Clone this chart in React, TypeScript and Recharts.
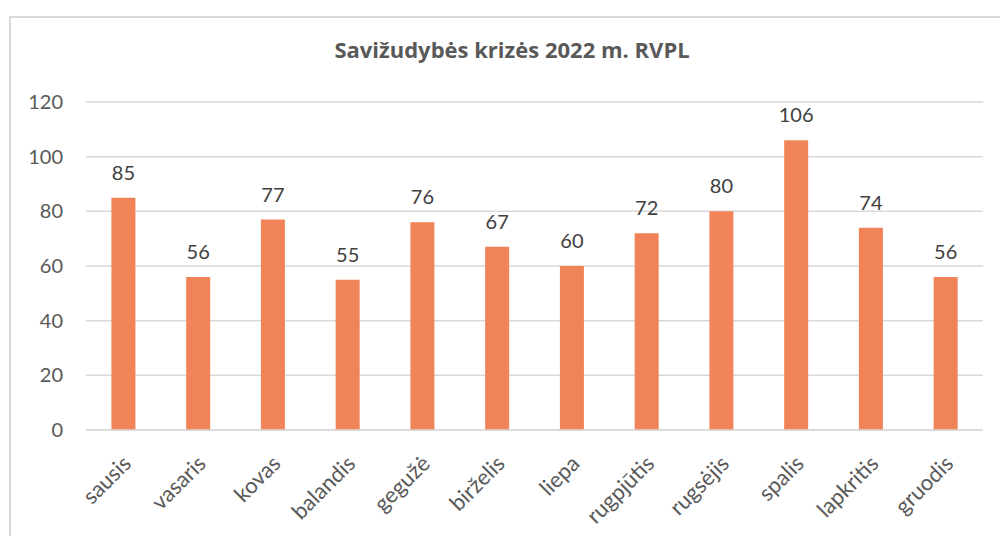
import { BarChart, Bar, XAxis, YAxis, CartesianGrid, LabelList } from 'recharts';

const months = ['sausis', 'vasaris', 'kovas', 'balandis', 'gegužė', 'birželis', 'liepa', 'rugpjūtis', 'rugsėjis', 'spalis', 'lapkritis', 'gruodis'];
const counts = [85, 56, 77, 55, 76, 67, 60, 72, 80, 106, 74, 56];
const yTicks = [0, 20, 40, 60, 80, 100, 120];

const FONT = 'Lato, "Open Sans", sans-serif';
const BAR = '#F08458';

function MonthTick(props: { x?: number; y?: number; payload?: { value: string } }) {
  const { x = 0, y = 0, payload } = props;
  return (
    <g transform={`translate(${x + 9},${y + 27})`}>
      <text transform="rotate(-45)" textAnchor="end" fill="#595959" fontSize={22} fontFamily={FONT}>
        {payload?.value}
      </text>
    </g>
  );
}

function CountTick(props: { y?: number; payload?: { value: number } }) {
  const { y = 0, payload } = props;
  return (
    <text x={63} y={y} dy={7} textAnchor="end" fill="#595959" fontSize={20} fontFamily={FONT}>
      {payload?.value}
    </text>
  );
}

export default function App() {
  const data = months.map((m, i) => ({ month: m, value: counts[i] }));

  return (
    <div style={{ position: 'absolute', left: 0, top: 0, width: 1000, height: 536, overflow: 'hidden', background: '#fff' }}>
      {/* chart frame, cut off on the right and bottom */}
      <div style={{ position: 'absolute', left: 9, top: 16, width: 1010, height: 560, border: '2px solid #D9D9D9' }} />
      <div
        style={{
          position: 'absolute', left: 0, top: 34, width: 1024, textAlign: 'center',
          fontFamily: '"Open Sans", sans-serif', fontWeight: 700, fontSize: 22, color: '#595959',
        }}
      >
        Savižudybės krizės 2022 m. RVPL
      </div>
      <BarChart
        width={1000}
        height={536}
        data={data}
        margin={{ top: 102, right: 17, left: 0, bottom: 0 }}
        barCategoryGap="34%"
        style={{ position: 'absolute', left: 0, top: 0 }}
      >
        <CartesianGrid vertical={false} stroke="#D9D9D9" strokeWidth={1.5} />
        <XAxis
          dataKey="month"
          interval={0}
          height={106}
          axisLine={{ stroke: '#D9D9D9', strokeWidth: 1.5 }}
          tickLine={false}
          tick={<MonthTick />}
        />
        <YAxis
          domain={[0, 120]}
          ticks={yTicks}
          width={86}
          axisLine={false}
          tickLine={false}
          tick={<CountTick />}
        />
        <Bar dataKey="value" fill={BAR} isAnimationActive={false}>
          <LabelList dataKey="value" position="top" offset={18} fill="#404040" fontSize={20} fontFamily={FONT} />
        </Bar>
      </BarChart>
    </div>
  );
}
